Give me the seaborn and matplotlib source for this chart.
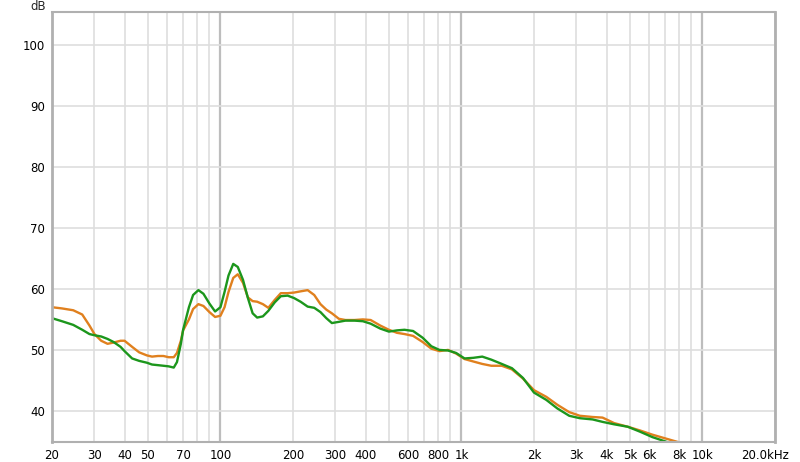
import numpy as np
import pandas as pd
import matplotlib
matplotlib.use("Agg")
import matplotlib.pyplot as plt
import matplotlib.transforms as mtransforms
import seaborn as sns

# frequency points (Hz) shared by both curves
freq = [20, 22, 24.5, 26.7, 28.6, 30, 32, 34, 36, 38.5, 40, 43, 46, 49.5, 52, 55,
        58, 61, 64, 66, 68.5, 70, 74, 77, 81, 85, 90, 95, 100, 104, 108, 113, 118,
        124, 130, 136, 142, 150, 158, 168, 178, 190, 202, 215, 230, 245, 260, 275,
        290, 310, 330, 360, 390, 420, 460, 500, 540, 580, 630, 690, 750, 810, 880,
        950, 1030, 1120, 1220, 1330, 1470, 1620, 1800, 2000, 2250, 2500, 2800, 3100,
        3500, 3850, 4300, 4900, 5500, 6200, 7000, 7900, 8800]

orange_db = [57.0, 56.8, 56.5, 55.8, 54.0, 52.6, 51.5, 51.0, 51.2, 51.5, 51.5, 50.5,
             49.6, 49.1, 48.9, 49.0, 49.0, 48.8, 48.8, 49.5, 51.5, 53.2, 55.0, 56.7,
             57.5, 57.2, 56.2, 55.4, 55.6, 57.0, 59.5, 61.8, 62.4, 61.0, 58.6, 58.0,
             57.9, 57.5, 56.9, 58.2, 59.3, 59.3, 59.4, 59.6, 59.8, 59.0, 57.5, 56.6,
             56.0, 55.1, 54.9, 54.9, 55.0, 54.9, 54.0, 53.3, 52.8, 52.6, 52.3, 51.3,
             50.2, 49.8, 50.0, 49.4, 48.5, 48.1, 47.7, 47.4, 47.4, 46.8, 45.3, 43.4,
             42.3, 41.0, 39.8, 39.2, 39.0, 38.9, 38.0, 37.4, 36.8, 36.1, 35.5, 34.9,
             34.2]

green_db = [55.2, 54.7, 54.1, 53.3, 52.6, 52.4, 52.2, 51.8, 51.3, 50.5, 49.8, 48.6,
            48.2, 47.9, 47.6, 47.5, 47.4, 47.3, 47.1, 48.0, 51.0, 53.3, 57.0, 59.0,
            59.8, 59.2, 57.6, 56.3, 57.0, 59.5, 62.2, 64.1, 63.6, 61.5, 58.5, 56.0,
            55.3, 55.5, 56.4, 57.8, 58.8, 58.9, 58.5, 57.9, 57.1, 56.9, 56.2, 55.2,
            54.4, 54.6, 54.8, 54.8, 54.7, 54.3, 53.5, 53.0, 53.2, 53.3, 53.1, 52.0,
            50.6, 50.0, 49.9, 49.5, 48.6, 48.7, 48.9, 48.4, 47.7, 47.0, 45.4, 43.0,
            41.8, 40.4, 39.2, 38.8, 38.6, 38.2, 37.8, 37.4, 36.6, 35.7, 35.0, 34.3,
            33.6]

x_ticks = [20, 30, 40, 50, 70, 100, 200, 300, 400, 600, 800, 1000, 2000, 3000,
           4000, 5000, 6000, 8000, 10000, 20000]
x_labels = ["20", "30", "40", "50", "70", "100", "200", "300", "400", "600", "800",
            "1k", "2k", "3k", "4k", "5k", "6k", "8k", "10k", "20.0kHz"]
y_ticks = [40, 50, 60, 70, 80, 90, 100]

sns.set_theme(style="white")
plt.rcParams['font.family'] = ['DejaVu Sans']

df = pd.DataFrame({
    'freq': freq * 2,
    'db': orange_db + green_db,
    'serie': ['orange'] * len(freq) + ['green'] * len(freq),
})

fig = plt.figure(figsize=(8, 4.62), dpi=100)
ax = fig.add_axes([52 / 800, 1 - 442 / 462, 723 / 800, 430 / 462])

# rejilla: lineas menores en todos los multiplos, mas oscuras en las decadas
minor = [m * d for d in (10, 100, 1000, 10000) for m in range(1, 10)]
minor = [f for f in minor if 20 <= f <= 20000]
for f in minor:
    dark = f in (100, 1000, 10000)
    ax.axvline(f, color='#bdbdbd' if dark else '#dedede', lw=1.6 if dark else 1.2, zorder=0)
for y in y_ticks:
    ax.axhline(y, color='#dedede', lw=1.2, zorder=0)

sns.lineplot(data=df, x='freq', y='db', hue='serie',
             palette={'orange': '#e0801e', 'green': '#1c961c'},
             hue_order=['orange', 'green'], lw=1.7, legend=False, ax=ax,
             sort=False, estimator=None)

ax.set_xscale('log')
ax.set_xlim(20, 20000)
ax.set_ylim(34.9, 105.4)
ax.set_xticks(x_ticks)
ax.set_xticklabels(x_labels)
ax.xaxis.set_minor_locator(matplotlib.ticker.NullLocator())
ax.set_yticks(y_ticks)
ax.tick_params(axis='both', length=0, labelsize=8.5, colors='black')
ax.tick_params(axis='x', pad=5)
ax.tick_params(axis='y', pad=5)
ax.set_xlabel('')
ax.set_ylabel('')
ax.grid(False)

# la ultima etiqueta se corre a la izquierda para que quepa
last = ax.get_xticklabels()[-1]
last.set_transform(last.get_transform() +
                   mtransforms.ScaledTranslation(-10 / 100, 0, fig.dpi_scale_trans))

for side, sp in ax.spines.items():
    sp.set_color('#b0b0b0')
    sp.set_linewidth(2.0 if side in ('left', 'right') else 1.5)

fig.text(38 / 800, 1 - 6 / 462, 'dB', ha='center', va='center', fontsize=8.5)

plt.savefig('out.png', dpi=100)
